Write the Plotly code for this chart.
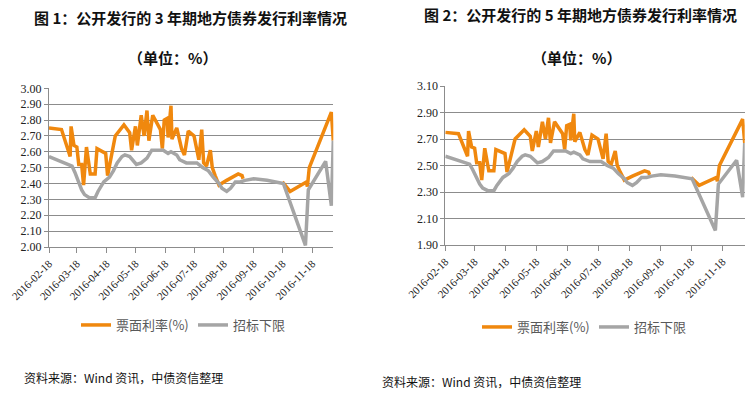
import plotly.graph_objects as go

# ---------------- data ----------------
coupon_dates = [
    "2016-02-18", "2016-03-02", "2016-03-11", "2016-03-12", "2016-03-15", "2016-03-18",
    "2016-03-20", "2016-03-23", "2016-03-25", "2016-03-28", "2016-04-01", "2016-04-06",
    "2016-04-08", "2016-04-13", "2016-04-17", "2016-04-19", "2016-04-27", "2016-05-06",
    "2016-05-12", "2016-05-14", "2016-05-18", "2016-05-20", "2016-05-24", "2016-05-27",
    "2016-05-30", "2016-06-01", "2016-06-05", "2016-06-13", "2016-06-15", "2016-06-17",
    "2016-06-20", "2016-06-21", "2016-06-24", "2016-06-25", "2016-06-30", "2016-07-05",
    "2016-07-08", "2016-07-12", "2016-07-18", "2016-07-23", "2016-07-26", "2016-07-28",
    "2016-07-31", "2016-08-04", "2016-08-06", "2016-08-09", "2016-08-13", "2016-08-21",
    "2016-09-02", "2016-09-06", "2016-09-07", "2016-09-25", "2016-10-18", "2016-10-26",
    "2016-11-12", "2016-11-13", "2016-11-15", "2016-12-08", "2016-12-10",
]
coupon_rate = [
    2.75, 2.74, 2.57, 2.76, 2.64, 2.63,
    2.52, 2.52, 2.39, 2.63, 2.46, 2.46,
    2.62, 2.60, 2.59, 2.45, 2.70, 2.77,
    2.72, 2.61, 2.76, 2.64, 2.83, 2.70,
    2.86, 2.67, 2.83, 2.74, 2.62, 2.80,
    2.81, 2.69, 2.89, 2.68, 2.75, 2.62,
    2.58, 2.73, 2.70, 2.55, 2.74, 2.53,
    2.51, 2.61, 2.50, 2.45, 2.39, 2.42,
    2.46, 2.45, 2.43, None, 2.41, 2.35,
    2.41, 2.38, 2.50, 2.85, 2.67,
]

floor_dates = [
    "2016-02-18", "2016-03-13", "2016-03-16", "2016-03-20", "2016-03-23", "2016-03-26",
    "2016-03-31", "2016-04-06", "2016-04-09", "2016-04-15", "2016-04-21", "2016-04-25",
    "2016-04-29", "2016-05-04", "2016-05-07", "2016-05-12", "2016-05-19", "2016-05-24",
    "2016-05-30", "2016-06-04", "2016-06-16", "2016-06-21", "2016-06-24", "2016-06-30",
    "2016-07-03", "2016-07-10", "2016-07-21", "2016-07-27", "2016-08-02", "2016-08-07",
    "2016-08-13", "2016-08-16", "2016-08-21", "2016-08-25", "2016-08-30", "2016-09-04",
    "2016-09-09", "2016-09-18", "2016-10-02", "2016-10-19", "2016-11-11", "2016-11-14",
    "2016-12-02", "2016-12-08", "2016-12-10",
]
floor_rate = [
    2.57, 2.51, 2.47, 2.40, 2.36, 2.33,
    2.31, 2.31, 2.35, 2.41, 2.44, 2.48,
    2.53, 2.57, 2.58, 2.57, 2.52, 2.53,
    2.56, 2.61, 2.61, 2.59, 2.60, 2.58,
    2.55, 2.53, 2.53, 2.50, 2.48, 2.44,
    2.40, 2.37, 2.35, 2.37, 2.41, 2.41,
    2.42, 2.43, 2.42, 2.40, 2.01, 2.36,
    2.54, 2.26, 2.67,
]

tick_dates = ["2016-02-18", "2016-03-18", "2016-04-18", "2016-05-18", "2016-06-18",
              "2016-07-18", "2016-08-18", "2016-09-18", "2016-10-18", "2016-11-18"]

series_names = ["票面利率(%)", "招标下限"]
titles = ["图 1：公开发行的 3 年期地方债券发行利率情况", "图 2：公开发行的 5 年期地方债券发行利率情况"]
subtitle = "（单位：%）"
source = "资料来源：Wind 资讯，中债资信整理"

# ---------------- styles ----------------
ORANGE = "#F0880E"
GRAY = "#A5A5A5"
GRID = "#8C8C8C"
CJK = "Noto Sans CJK SC"
SERIF = "Liberation Serif"
W, H = 754, 395

fig = go.Figure()

for i, (xa, ya, lg) in enumerate([("x", "y", "legend"), ("x2", "y2", "legend2")]):
    fig.add_trace(go.Scatter(x=coupon_dates, y=coupon_rate, mode="lines", name=series_names[0],
                             line=dict(color=ORANGE, width=3.5), xaxis=xa, yaxis=ya,
                             legend=lg, connectgaps=False))
    fig.add_trace(go.Scatter(x=floor_dates, y=floor_rate, mode="lines", name=series_names[1],
                             line=dict(color=GRAY, width=3.5), xaxis=xa, yaxis=ya,
                             legend=lg))

def xaxis(domain, anchor):
    return dict(domain=domain, anchor=anchor, type="date", automargin=False,
                range=["2016-02-18", "2016-12-10"],
                tickvals=tick_dates, tickformat="%Y-%m-%d", tickangle=-45,
                ticks="outside", ticklen=5, tickcolor=GRID,
                showline=True, linecolor=GRID, linewidth=1,
                showgrid=False, zeroline=False,
                tickfont=dict(family=SERIF, size=11, color="#222222"))

def yaxis(domain, anchor, rng, dtick):
    return dict(domain=domain, anchor=anchor, range=rng, dtick=dtick, tick0=rng[0],
                automargin=False,
                tickformat=".2f", ticks="outside", ticklen=4, tickcolor=GRID,
                showline=True, linecolor=GRID, linewidth=1,
                showgrid=True, gridcolor=GRID, gridwidth=1, zeroline=False,
                tickfont=dict(family=SERIF, size=12, color="#222222"))

fig.update_layout(
    template="none",
    width=W, height=H,
    margin=dict(l=0, r=0, t=0, b=0, pad=0, autoexpand=False),
    paper_bgcolor="white", plot_bgcolor="white",
    xaxis=xaxis([49 / W, 333.3 / W], "y"),
    yaxis=yaxis([148 / H, 306.7 / H], "x", [2.0, 3.0], 0.1),
    xaxis2=xaxis([445.3 / W, 744.7 / W], "y2"),
    yaxis2=yaxis([150 / H, 309 / H], "x2", [1.9, 3.1], 0.2),
    legend=dict(orientation="h", x=76 / W, xanchor="left", y=(H - 325) / H, yanchor="middle",
                font=dict(family=CJK, size=13, color="#595959"), bgcolor="rgba(0,0,0,0)",
                entrywidth=72, itemwidth=30),
    legend2=dict(orientation="h", x=477 / W, xanchor="left", y=(H - 327) / H, yanchor="middle",
                 font=dict(family=CJK, size=13, color="#595959"), bgcolor="rgba(0,0,0,0)",
                 entrywidth=72, itemwidth=30),
    showlegend=True,
)

ann = []
ann.append(dict(text="<b>" + titles[0] + "</b>", x=191 / W, y=(H - 17) / H))
ann.append(dict(text="<b>" + titles[1] + "</b>", x=580 / W, y=(H - 15) / H))
ann.append(dict(text="<b>" + subtitle + "</b>", x=172 / W, y=(H - 57) / H))
ann.append(dict(text="<b>" + subtitle + "</b>", x=576 / W, y=(H - 57) / H))
for a in ann:
    a.update(xref="paper", yref="paper", showarrow=False, xanchor="center", yanchor="middle",
             font=dict(family=CJK, size=15, color="#111111"))
src = [
    dict(text=source, x=22 / W, y=(H - 377) / H),
    dict(text=source, x=380 / W, y=(H - 381) / H),
]
for a in src:
    a.update(xref="paper", yref="paper", showarrow=False, xanchor="left", yanchor="middle",
             font=dict(family=CJK, size=12, color="#111111"))
fig.update_layout(annotations=ann + src)

fig.write_html("out.html", config={"displayModeBar": False},
               post_script="document.body.style.margin='0px';document.body.style.overflow='hidden';")
